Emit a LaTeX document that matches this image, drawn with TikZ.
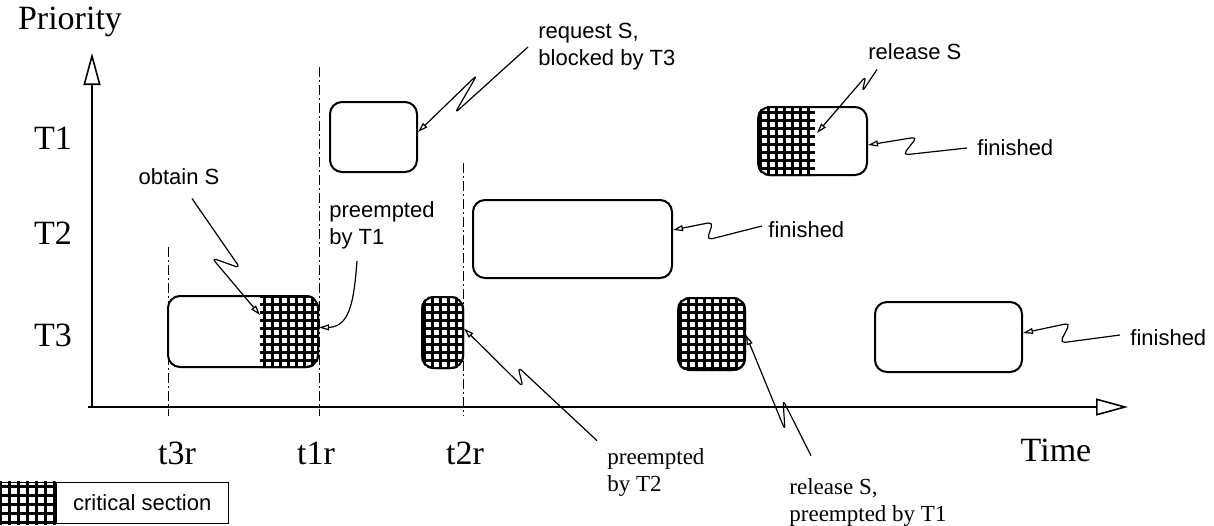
\documentclass[tikz,border=0pt]{standalone}
\usepackage{fontspec}
\setmainfont{Liberation Serif}
\setsansfont{Liberation Sans}
\usepackage{tikz}
\usetikzlibrary{arrows.meta,positioning}

% grid fill of a critical section, clipped to the task box
\newcommand{\hatchbox}[3]{%
  \begin{scope}
    \clip[rounded corners=6pt] (#1.south west) rectangle (#1.north east);
    \draw[crit,step=4pt] (#2,530) grid (#3,0);
  \end{scope}}

\begin{document}
\begin{tikzpicture}[x=0.5pt,y=-0.5pt,
  big/.style={font=\fontsize{17}{20}\selectfont},
  note/.style={font=\sffamily\fontsize{11}{13.5}\selectfont,align=left,inner sep=1pt},
  snote/.style={font=\fontsize{11.5}{13.5}\selectfont,align=left,inner sep=1pt},
  task/.style={draw,line width=1pt,rounded corners=6pt,inner sep=0pt},
  crit/.style={line width=1.5pt},
  axis/.style={line width=1pt,-{Triangle[open,length=16pt,width=8.5pt,line width=0.8pt]}},
  rel/.style={line width=0.5pt,dash pattern=on 5pt off 1.5pt on 1pt off 1.5pt},
  lead/.style={line width=0.6pt,rounded corners=2.5pt,-{Triangle[open,length=5pt,width=3pt]}}]

  \useasboundingbox (0,0) rectangle (1214,525);

  % axes
  \coordinate (o) at (92,407);
  \coordinate (ytop) at (92,53);
  \coordinate (xend) at (1128,407);
  \draw[axis] (o) -- (ytop);
  \draw[axis] ([xshift=-2pt]o) -- (xend);
  \node[big] (prio) at (70,22) {Priority};
  \node[big] (time) at (1056,450) {Time};
  \node[big] (lt1) at (53,138) {T1};
  \node[big] (lt2) at (53,233) {T2};
  \node[big] (lt3) at (53,335) {T3};

  % release times
  \node[big] (t3r) at (177,453) {t3r};
  \node[big] (t1r) at (316,453) {t1r};
  \node[big] (t2r) at (465,453) {t2r};
  \foreach \x/\top in {168/247,319/67,463/163}
    \draw[rel] (\x,\top) -- (\x,416);

  % tasks
  \node[task,minimum width=43.5pt,minimum height=35pt] (t1a) at (373.5,137) {};
  \node[task,minimum width=54.5pt,minimum height=34pt] (t1b) at (812.5,141) {};
  \node[task,minimum width=99.5pt,minimum height=39pt] (t2) at (572.5,239) {};
  \node[task,minimum width=75pt,minimum height=35.5pt] (t3a) at (243,331.5) {};
  \node[task,minimum width=20.5pt,minimum height=35.5pt] (t3b) at (442.5,332.5) {};
  \node[task,minimum width=33.5pt,minimum height=36pt] (t3c) at (711.5,334) {};
  \node[task,minimum width=73.5pt,minimum height=35pt] (t3d) at (948.5,337) {};
  \hatchbox{t1b}{758}{815}
  \hatchbox{t3a}{260}{320}
  \hatchbox{t3b}{420}{466}
  \hatchbox{t3c}{676}{748}

  % events
  \node[note] (obt) at (179,177) {obtain S};
  \coordinate (obttip) at (260,315);
  \draw[lead] ([xshift=6.5pt,yshift=-5.5pt]obt.south) -- (240,268) -- (212,258) -- (obttip);

  \node[note,anchor=west] (pre1) at (327,225) {preempted\\by T1};
  \draw[lead] ([xshift=15pt,yshift=-5pt]pre1.south west) .. controls (354,300) and (350,327) .. ([yshift=2pt]t3a.east);

  \node[note,anchor=west] (req) at (536,47) {request S,\\blocked by T3};
  \draw[lead] ([xshift=-4pt]req.west) -- (455,113) -- (477,75) -- ([yshift=2.5pt]t1a.east);

  \node[note,anchor=west] (rels) at (866,52) {release S};
  \coordinate (reltip) at (817,133);
  \draw[lead] ([xshift=5.5pt,yshift=-3.5pt]rels.south west) -- (862,92) -- (866,76) -- (reltip);

  \node[note,anchor=west] (fin1) at (975,148) {finished};
  \draw[lead] ([xshift=-4pt]fin1.west) -- (903,155) -- (917,137) -- ([yshift=-2pt]t1b.east);

  \node[note,anchor=west] (fin2) at (766,230) {finished};
  \draw[lead] ([xshift=-2pt,yshift=2pt]fin2.west) -- (707,240) -- (713,222) -- ([yshift=4.5pt]t2.east);

  \node[note,anchor=west] (fin3) at (1128,338) {finished};
  \draw[lead] ([xshift=-4pt,yshift=1.5pt]fin3.west) -- (1060,343) -- (1070,323) -- ([yshift=2pt]t3d.east);

  \node[snote,anchor=west] (pre2) at (605,472) {preempted\\by T2};
  \draw[lead] ([xshift=-4pt,yshift=2.5pt]pre2.north west) -- (518,367) -- (523,387) -- ([yshift=2pt]t3b.east);

  \node[snote,anchor=west] (pre3) at (787,502) {release S,\\preempted by T1};
  \draw[lead] ([xshift=12pt,yshift=10pt]pre3.north west) -- (783,400) -- (785,430) -- ([yshift=-0.5pt]t3c.east);

  % legend
  \node[draw,line width=0.6pt,minimum width=27.5pt,minimum height=20.5pt,inner sep=0pt] (legcs) at (27.5,503) {};
  \node[draw,line width=0.6pt,minimum width=86pt,minimum height=20.5pt,inner sep=0pt,right=0pt of legcs,note,align=center] (legtxt) {critical section};
  \begin{scope}
    \clip (legcs.south west) rectangle (legcs.north east);
    \draw[crit,step=4.5pt] (0,525) grid (55,480);
  \end{scope}
\end{tikzpicture}
\end{document}
